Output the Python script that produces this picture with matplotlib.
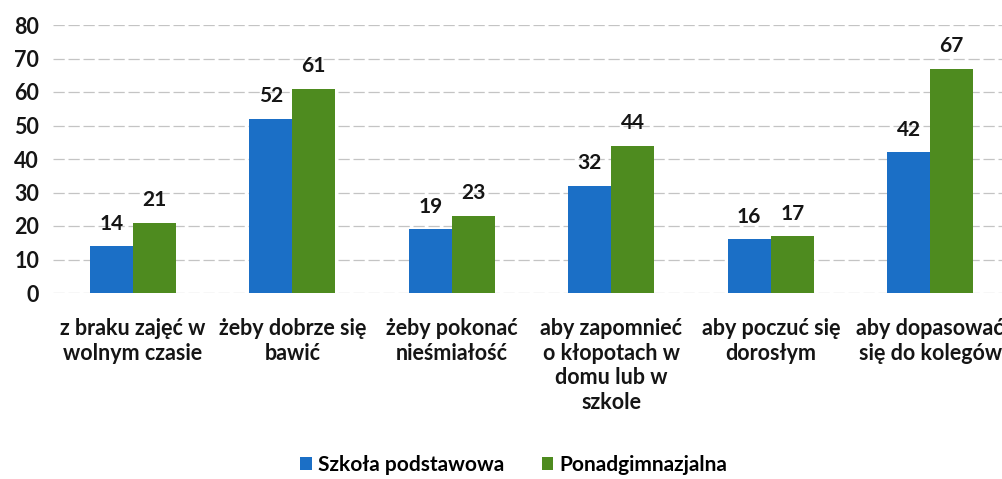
import matplotlib.pyplot as plt
import numpy as np

plt.rcParams['font.family'] = ['Lato', 'DejaVu Sans']
plt.rcParams['font.weight'] = 'bold'

categories = ['z braku zajęć w\nwolnym czasie', 'żeby dobrze się\nbawić', 'żeby pokonać\nnieśmiałość',
              'aby zapomnieć\no kłopotach w\ndomu lub w\nszkole', 'aby poczuć się\ndorosłym',
              'aby dopasować\nsię do kolegów']
podstawowa = [14, 52, 19, 32, 16, 42]
ponadgim = [21, 61, 23, 44, 17, 67]
series_names = ['Szkoła podstawowa', 'Ponadgimnazjalna']

blue = '#1b6fc6'
green = '#4e8b1f'

fig = plt.figure(figsize=(10.02, 4.79), dpi=100)
ax = fig.add_axes([53 / 1002, 186 / 479, 957 / 1002, 268 / 479])

x = np.arange(len(categories))
w = 0.27
b1 = ax.bar(x - w / 2, podstawowa, w, color=blue, label=series_names[0], zorder=3)
b2 = ax.bar(x + w / 2, ponadgim, w, color=green, label=series_names[1], zorder=3)
for bars in (b1, b2):
    ax.bar_label(bars, padding=9, fontsize=15, fontweight='bold', color='#151515')

ax.set_xlim(-0.5, len(categories) - 0.5)
ax.set_ylim(0, 80)
ax.set_yticks(range(0, 81, 10))
ax.yaxis.grid(True, color='#c4c4c4', linewidth=0.9, linestyle=(0, (9, 3)))
ax.set_axisbelow(True)
for s in ax.spines.values():
    s.set_visible(False)
ax.tick_params(length=0, labelsize=15.5, colors='#151515')
ax.tick_params(axis='y', pad=10)
ax.tick_params(axis='x', pad=18)
ax.set_xticks(x)
ax.set_xticklabels(categories, linespacing=1.22)
for t in ax.get_yticklabels():
    t.set_fontweight('bold')

fig.legend(handles=[b1, b2], loc='center', bbox_to_anchor=(514 / 1002, 1 - 465 / 479), ncol=2,
           frameon=False, fontsize=15, handlelength=0.55, handleheight=0.55, handletextpad=0.3,
           columnspacing=1.8)

fig.savefig('out.png', dpi=100)
